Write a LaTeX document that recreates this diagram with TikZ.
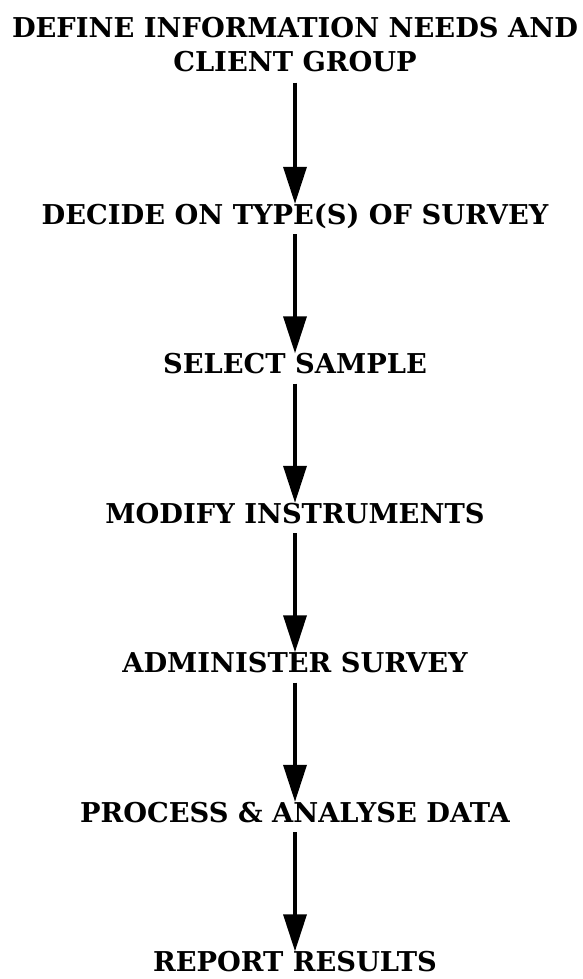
\documentclass[tikz,border=0pt]{standalone}
\usepackage{fontspec}
\setmainfont{DejaVu Serif}
\usetikzlibrary{positioning, arrows.meta}
\tikzset{
>={Triangle[length=37pt, width=23pt]}, % big filled heads
node distance=149.5pt, % centre to centre of the stages
stage/.style={font=\fontsize{27.3}{34}\selectfont\bfseries, align=center, inner sep=0pt, text height=20pt, text depth=0pt}, % every step of the flow
flow/.style={->, line width=3.5pt, shorten <=10pt}, % connectors between steps
}
\begin{document}
\begin{tikzpicture}[x=1pt, y=-1pt]
    \useasboundingbox (0,0) rectangle (583,979);
    \node[stage, text height={}, text depth={}] (define) at (295,45) {DEFINE INFORMATION NEEDS AND\\CLIENT GROUP};
    \node[stage] (decide) at (295,214) {DECIDE ON TYPE(S) OF SURVEY};
    \node[stage, below of=decide] (select) {SELECT SAMPLE};
    \node[stage, below of=select] (modify) {MODIFY INSTRUMENTS};
    \node[stage, below of=modify] (administer) {ADMINISTER SURVEY};
    \node[stage, below of=administer] (process) {PROCESS \& ANALYSE DATA};
    \node[stage, below of=process] (report) {REPORT RESULTS};
    \draw
        (define) edge[flow] (decide)
        (decide) edge[flow] (select)
        (select) edge[flow] (modify)
        (modify) edge[flow] (administer)
        (administer) edge[flow] (process)
        (process) edge[flow] (report)
        ;
\end{tikzpicture}
\end{document}
